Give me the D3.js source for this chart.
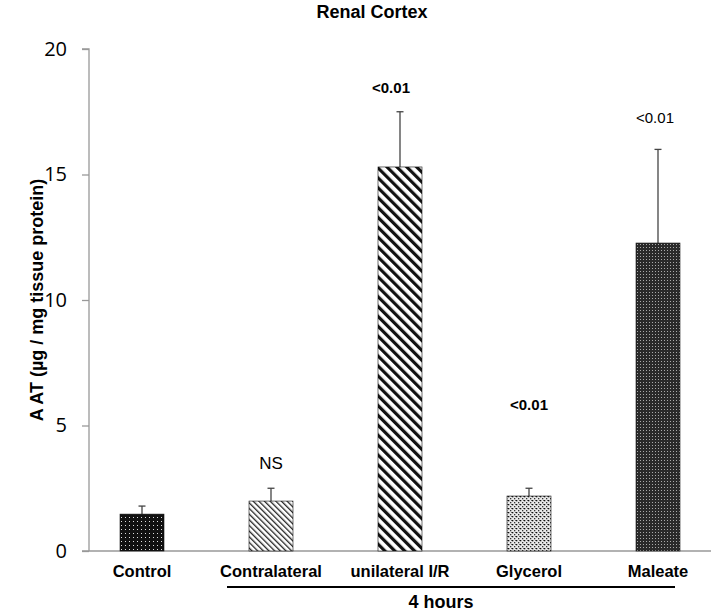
<!DOCTYPE html>
<html>
<head>
<meta charset="utf-8">
<script src="https://cdn.jsdelivr.net/npm/d3@7"></script>
<style>
  html, body { margin: 0; padding: 0; background: #fff; }
  svg { display: block; }
</style>
</head>
<body>
<div id="chart"></div>
<script>
const categories = ["Control", "Contralateral", "unilateral I/R", "Glycerol", "Maleate"];
const values = [1.47, 1.99, 15.3, 2.19, 12.27];
const errors = [0.32, 0.51, 2.2, 0.31, 3.73];
const annotations = ["", "NS", "<0.01", "<0.01", "<0.01"];
const annotationValues = [0, 3.25, 18.25, 5.6, 17.05];
const annotationBold = [false, false, true, true, false];
const patterns = ["pDarkDots", "pThinDiag", "pWideDiag", "pSparseDots", "pDarkChecker"];
const yTicks = [0, 5, 10, 15, 20];
const groupLabel = "4 hours";
const title = "Renal Cortex";
const yLabel = "A AT (µg / mg tissue protein)";

const W = 716, H = 615;
const svg = d3.select("#chart").append("svg").attr("width", W).attr("height", H);

const defs = svg.append("defs");
let p = defs.append("pattern").attr("id", "pDarkDots").attr("patternUnits", "userSpaceOnUse").attr("width", 4).attr("height", 4);
p.append("rect").attr("width", 4).attr("height", 4).attr("fill", "#111");
p.append("rect").attr("x", 1).attr("y", 1).attr("width", 1).attr("height", 1).attr("fill", "#ddd");
p = defs.append("pattern").attr("id", "pThinDiag").attr("patternUnits", "userSpaceOnUse").attr("width", 4).attr("height", 4).attr("patternTransform", "rotate(-45)");
p.append("rect").attr("width", 4).attr("height", 4).attr("fill", "#fff");
p.append("rect").attr("x", 0).attr("width", 1.3).attr("height", 4).attr("fill", "#222");
p = defs.append("pattern").attr("id", "pWideDiag").attr("patternUnits", "userSpaceOnUse").attr("width", 7).attr("height", 7).attr("patternTransform", "rotate(-45)");
p.append("rect").attr("width", 7).attr("height", 7).attr("fill", "#fff");
p.append("rect").attr("x", 0).attr("width", 3.2).attr("height", 7).attr("fill", "#111");
p = defs.append("pattern").attr("id", "pSparseDots").attr("patternUnits", "userSpaceOnUse").attr("width", 4).attr("height", 4);
p.append("rect").attr("width", 4).attr("height", 4).attr("fill", "#e8e8e8");
p.append("rect").attr("x", 0).attr("y", 0).attr("width", 1.3).attr("height", 1.3).attr("fill", "#111");
p.append("rect").attr("x", 2).attr("y", 2).attr("width", 1.3).attr("height", 1.3).attr("fill", "#333");
p.append("rect").attr("x", 3).attr("y", 0).attr("width", 1).attr("height", 1).attr("fill", "#666");
p = defs.append("pattern").attr("id", "pDarkChecker").attr("patternUnits", "userSpaceOnUse").attr("width", 3).attr("height", 3);
p.append("rect").attr("width", 3).attr("height", 3).attr("fill", "#2a2a2a");
p.append("rect").attr("x", 1).attr("y", 1).attr("width", 1).attr("height", 1).attr("fill", "#aaa");

const x0 = 89, y0 = 551, yTop = 49;
const y = d3.scaleLinear().domain([0, 20]).range([y0, yTop]);
const x = d3.scalePoint().domain(categories).range([142, 658]);
const bw = 44;
const cx = d => x(d);

const yAxis = svg.append("g").attr("transform", `translate(${x0},0)`)
  .call(d3.axisLeft(y).tickValues(yTicks).tickSize(7).tickPadding(15).tickFormat(d3.format("d")));
yAxis.select(".domain").attr("stroke", "#999").attr("stroke-width", 1.3).attr("d", `M-7,${yTop}H0V${y0}`);
yAxis.selectAll(".tick line").attr("stroke", "#999").attr("stroke-width", 1.3);
yAxis.selectAll(".tick text").attr("font-family", "'Open Sans', 'Noto Sans', sans-serif").attr("font-size", 20).attr("fill", "#000");

svg.append("line").attr("x1", x0 - 7).attr("x2", 711).attr("y1", y0).attr("y2", y0).attr("stroke", "#999").attr("stroke-width", 1.3);

const data = categories.map((c, i) => ({c, v: values[i], e: errors[i], p: patterns[i], a: annotations[i], av: annotationValues[i], ab: annotationBold[i]}));

svg.selectAll(".err").data(data).enter().append("g").each(function(d) {
  const g = d3.select(this);
  g.append("line").attr("x1", cx(d.c)).attr("x2", cx(d.c)).attr("y1", y(d.v)).attr("y2", y(d.v + d.e)).attr("stroke", "#444").attr("stroke-width", 1.3);
  g.append("line").attr("x1", cx(d.c) - 3.5).attr("x2", cx(d.c) + 3.5).attr("y1", y(d.v + d.e)).attr("y2", y(d.v + d.e)).attr("stroke", "#444").attr("stroke-width", 1.3);
});

svg.selectAll(".bar").data(data).enter().append("rect")
  .attr("x", d => cx(d.c) - bw / 2).attr("width", bw)
  .attr("y", d => y(d.v)).attr("height", d => y(0) - y(d.v))
  .attr("fill", d => `url(#${d.p})`)
  .attr("stroke", "#111").attr("stroke-width", 0.6);

svg.selectAll(".ann").data(data.filter(d => d.a)).enter().append("text")
  .attr("x", d => cx(d.c) - (d.c === "unilateral I/R" ? 9 : d.c === "Maleate" ? 3 : 0)).attr("y", d => y(d.av))
  .attr("text-anchor", "middle")
  .attr("font-family", "'Liberation Sans', Arial, sans-serif")
  .attr("font-size", d => d.a === "NS" ? 17 : 15)
  .attr("font-weight", d => d.ab ? "bold" : "normal")
  .text(d => d.a);

svg.selectAll(".cat").data(data).enter().append("text")
  .attr("x", d => cx(d.c)).attr("y", 577)
  .attr("text-anchor", "middle")
  .attr("font-family", "'Liberation Sans', Arial, sans-serif")
  .attr("font-size", 16.5).attr("font-weight", "bold")
  .text(d => d.c);

svg.append("line").attr("x1", 227).attr("x2", 675).attr("y1", 587).attr("y2", 587).attr("stroke", "#000").attr("stroke-width", 2);
svg.append("text").attr("x", 441).attr("y", 608).attr("text-anchor", "middle")
  .attr("font-family", "'Liberation Sans', Arial, sans-serif").attr("font-size", 18).attr("font-weight", "bold")
  .text(groupLabel);

svg.append("text").attr("x", 372).attr("y", 18).attr("text-anchor", "middle")
  .attr("font-family", "'Liberation Sans', Arial, sans-serif").attr("font-size", 18).attr("font-weight", "bold")
  .text(title);

svg.append("text").attr("transform", "translate(43,300) rotate(-90)").attr("text-anchor", "middle")
  .attr("font-family", "'Liberation Sans', Arial, sans-serif").attr("font-size", 18).attr("font-weight", "bold")
  .text(yLabel);
</script>
</body>
</html>
